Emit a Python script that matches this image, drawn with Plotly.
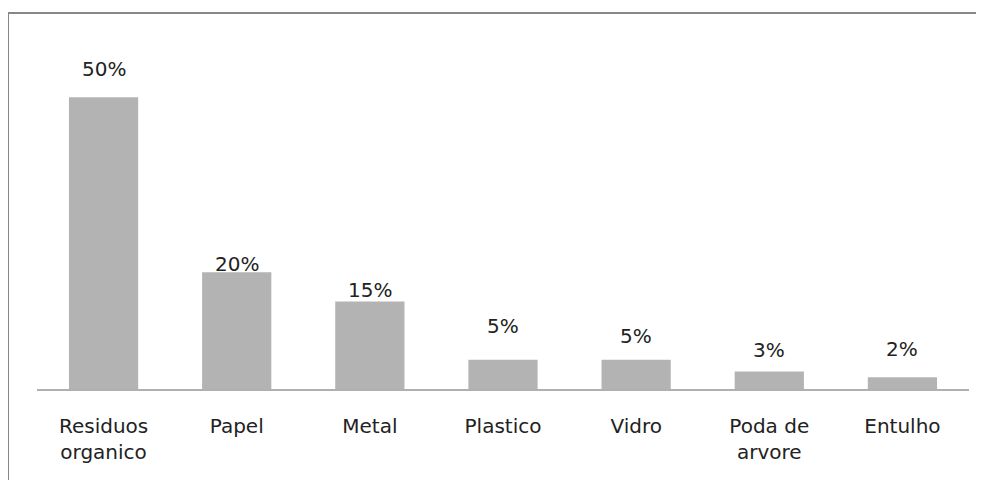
import plotly.graph_objects as go

categories = ["Residuos<br>organico", "Papel", "Metal", "Plastico", "Vidro", "Poda de<br>arvore", "Entulho"]
values = [50, 20, 15, 5, 5, 3, 2]
value_labels = ["50%", "20%", "15%", "5%", "5%", "3%", "2%"]
label_offsets = [28, 8, 12, 34, 24, 22, 28]  # px above bar top (styling)

# page body adds an 8px offset; figure coordinates are reference minus 8
OFF = 8
W, H = 984 - OFF, 480 - OFF
ML, MR, MT, MB = 37 - OFF, 15, 39 - OFF, 91
pw = W - ML - MR
ph = H - MT - MB

FONT = "DejaVu Sans"
FS = 20

fig = go.Figure()
fig.add_trace(go.Bar(x=categories, y=values, marker=dict(color="#b3b3b3", line=dict(width=0)),
                     hoverinfo="skip"))

for c, v, t, o in zip(categories, values, value_labels, label_offsets):
    fig.add_annotation(x=c, y=v, text=t, showarrow=False, yshift=o, yanchor="middle",
                       font=dict(family=FONT, size=FS, color="#222222"))

def px_x(p):
    return (p - OFF - ML) / pw

def px_y(p):
    return (H - MB - (p - OFF)) / ph

fig.add_shape(type="rect", xref="paper", yref="paper",
              x0=px_x(8), x1=px_x(1000), y0=px_y(520), y1=px_y(13),
              line=dict(color="#878787", width=2), fillcolor="rgba(0,0,0,0)", layer="below")

fig.update_layout(
    width=W, height=H,
    margin=dict(l=ML, r=MR, t=MT, b=MB),
    paper_bgcolor="white", plot_bgcolor="white",
    bargap=0.48, showlegend=False,
    font=dict(family=FONT, size=FS, color="#222222"),
    xaxis=dict(showline=True, linecolor="#b0b0b0", linewidth=2, ticks="", showgrid=False,
               tickfont=dict(family=FONT, size=FS, color="#222222"), ticklabelstandoff=18),
    yaxis=dict(range=[0, 60], visible=False, showgrid=False, zeroline=False),
)

fig.write_html("out.html")
